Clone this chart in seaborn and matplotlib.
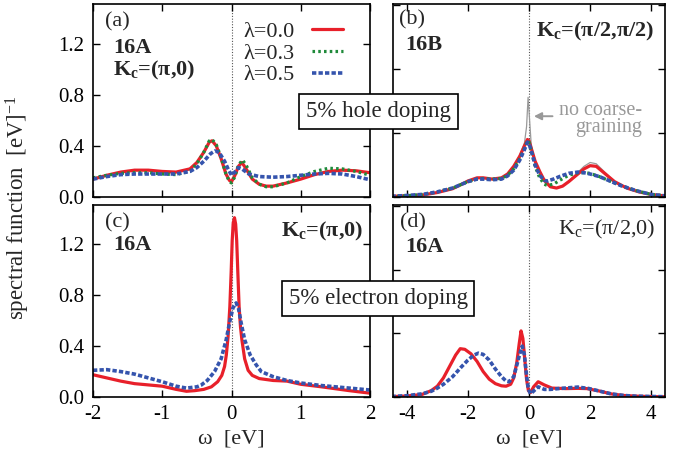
import matplotlib
matplotlib.use("Agg")
import matplotlib.pyplot as plt
from matplotlib.lines import Line2D
import seaborn as sns

# ---------------- data ----------------
# panel (a): 16A, Kc=(pi,0), 5% hole doping
w_a_l00 = [-2.0, -1.8, -1.6, -1.4, -1.2, -1.0, -0.8, -0.6, -0.5, -0.4, -0.32, -0.28, -0.22, -0.15, -0.08, -0.03,
           0.0, 0.05, 0.1, 0.15, 0.2, 0.3, 0.4, 0.5, 0.6, 0.8, 1.0, 1.2, 1.4, 1.6, 1.8, 2.0]
A_a_l00 = [0.14, 0.17, 0.195, 0.21, 0.21, 0.20, 0.195, 0.22, 0.27, 0.35, 0.43, 0.44, 0.40, 0.30, 0.18, 0.13,
           0.12, 0.17, 0.24, 0.27, 0.23, 0.14, 0.10, 0.085, 0.085, 0.11, 0.14, 0.175, 0.20, 0.21, 0.205, 0.19]
w_a_l03 = [-2.0, -1.8, -1.6, -1.4, -1.2, -1.0, -0.8, -0.6, -0.5, -0.4, -0.32, -0.28, -0.22, -0.15, -0.08, -0.03,
           0.0, 0.05, 0.1, 0.16, 0.22, 0.3, 0.4, 0.5, 0.6, 0.8, 1.0, 1.2, 1.4, 1.6, 1.8, 2.0]
A_a_l03 = [0.15, 0.17, 0.185, 0.19, 0.19, 0.18, 0.175, 0.20, 0.26, 0.35, 0.44, 0.45, 0.41, 0.31, 0.18, 0.12,
           0.11, 0.16, 0.25, 0.29, 0.24, 0.15, 0.10, 0.08, 0.08, 0.11, 0.16, 0.20, 0.225, 0.22, 0.20, 0.17]
w_a_l05 = [-2.0, -1.8, -1.6, -1.4, -1.2, -1.0, -0.8, -0.6, -0.5, -0.4, -0.3, -0.24, -0.18, -0.1, -0.05,
           0.0, 0.04, 0.1, 0.15, 0.25, 0.4, 0.6, 0.8, 1.0, 1.2, 1.4, 1.6, 1.8, 2.0]
A_a_l05 = [0.14, 0.16, 0.175, 0.18, 0.18, 0.18, 0.18, 0.20, 0.23, 0.28, 0.34, 0.36, 0.35, 0.28, 0.22,
           0.17, 0.19, 0.23, 0.22, 0.18, 0.16, 0.155, 0.16, 0.17, 0.18, 0.185, 0.18, 0.16, 0.135]

# panel (b): 16B, Kc=(pi/2,pi/2), 5% hole doping
w_b_l00 = [-4.5, -4.0, -3.5, -3.0, -2.5, -2.2, -2.0, -1.7, -1.5, -1.2, -0.9, -0.7, -0.5, -0.3, -0.15, -0.05,
           0.0, 0.1, 0.2, 0.35, 0.5, 0.7, 0.9, 1.1, 1.3, 1.5, 1.8, 2.0, 2.2, 2.5, 2.8, 3.2, 3.6, 4.0, 4.5]
A_b_l00 = [0.005, 0.01, 0.015, 0.035, 0.065, 0.10, 0.125, 0.15, 0.15, 0.14, 0.15, 0.18, 0.24, 0.32, 0.40, 0.45,
           0.44, 0.36, 0.28, 0.20, 0.13, 0.08, 0.07, 0.085, 0.12, 0.16, 0.22, 0.245, 0.24, 0.18, 0.12, 0.07, 0.04, 0.02, 0.007]
w_b_nocg = [-4.5, -4.0, -3.5, -3.0, -2.5, -2.2, -2.0, -1.7, -1.5, -1.2, -0.9, -0.7, -0.5, -0.3, -0.15, -0.08,
            -0.03, 0.02, 0.07, 0.15, 0.25, 0.35, 0.5, 0.7, 0.9, 1.1, 1.3, 1.5, 1.8, 2.0, 2.2, 2.5, 2.8, 3.2, 3.6, 4.0, 4.5]
A_b_nocg = [0.005, 0.01, 0.015, 0.035, 0.065, 0.10, 0.125, 0.15, 0.15, 0.14, 0.15, 0.18, 0.24, 0.33, 0.42, 0.55,
            0.78, 0.60, 0.42, 0.31, 0.23, 0.19, 0.13, 0.08, 0.07, 0.085, 0.125, 0.17, 0.24, 0.27, 0.26, 0.19, 0.12, 0.07, 0.04, 0.02, 0.007]
w_b_l03 = [-4.5, -4.0, -3.5, -3.0, -2.5, -2.2, -2.0, -1.7, -1.5, -1.2, -0.9, -0.7, -0.5, -0.3, -0.15, -0.05,
           0.0, 0.1, 0.2, 0.35, 0.5, 0.6, 0.8, 1.0, 1.3, 1.6, 1.8, 2.0, 2.3, 2.6, 3.0, 3.5, 4.0, 4.5]
A_b_l03 = [0.005, 0.01, 0.02, 0.04, 0.07, 0.10, 0.12, 0.14, 0.145, 0.14, 0.145, 0.17, 0.22, 0.30, 0.38, 0.44,
           0.43, 0.34, 0.24, 0.15, 0.10, 0.09, 0.10, 0.13, 0.17, 0.19, 0.19, 0.185, 0.16, 0.13, 0.09, 0.05, 0.02, 0.008]
w_b_l05 = [-4.5, -4.0, -3.5, -3.0, -2.5, -2.2, -2.0, -1.7, -1.5, -1.2, -0.9, -0.7, -0.5, -0.3, -0.15, -0.05,
           0.0, 0.1, 0.2, 0.35, 0.5, 0.6, 0.8, 1.0, 1.3, 1.6, 1.8, 2.0, 2.3, 2.6, 3.0, 3.5, 4.0, 4.5]
A_b_l05 = [0.005, 0.012, 0.02, 0.04, 0.07, 0.10, 0.12, 0.14, 0.14, 0.135, 0.14, 0.165, 0.21, 0.29, 0.37, 0.43,
           0.42, 0.34, 0.25, 0.17, 0.13, 0.125, 0.14, 0.16, 0.185, 0.195, 0.19, 0.18, 0.16, 0.13, 0.09, 0.05, 0.02, 0.008]

# panel (c): 16A, Kc=(pi,0), 5% electron doping
w_c_l00 = [-2.0, -1.8, -1.6, -1.4, -1.2, -1.0, -0.8, -0.65, -0.53, -0.4, -0.29, -0.2, -0.14, -0.1, -0.075, -0.05,
           -0.024, -0.005, 0.01, 0.025, 0.043, 0.06, 0.075, 0.09, 0.11, 0.13, 0.15, 0.19, 0.24, 0.3, 0.4, 0.6, 0.8,
           1.0, 1.3, 1.5, 1.7, 2.0]
A_c_l00 = [0.175, 0.15, 0.125, 0.105, 0.095, 0.085, 0.06, 0.045, 0.05, 0.06, 0.08, 0.12, 0.17, 0.24, 0.33, 0.47,
           0.71, 0.98, 1.23, 1.37, 1.41, 1.36, 1.23, 1.0, 0.71, 0.55, 0.45, 0.30, 0.21, 0.17, 0.145, 0.13, 0.125,
           0.10, 0.08, 0.065, 0.05, 0.03]
w_c_l05 = [-2.0, -1.8, -1.6, -1.4, -1.2, -1.0, -0.8, -0.65, -0.5, -0.44, -0.35, -0.245, -0.15, -0.077, -0.03,
           0.02, 0.067, 0.1, 0.14, 0.19, 0.27, 0.36, 0.43, 0.6, 0.8, 1.0, 1.3, 1.6, 2.0]
A_c_l05 = [0.21, 0.215, 0.20, 0.18, 0.15, 0.12, 0.085, 0.07, 0.08, 0.093, 0.13, 0.20, 0.30, 0.45, 0.58,
           0.70, 0.74, 0.70, 0.58, 0.45, 0.33, 0.25, 0.20, 0.16, 0.13, 0.11, 0.09, 0.075, 0.055]

# panel (d): 16A, Kc=(pi/2,0), 5% electron doping
w_d_l00 = [-4.5, -4.0, -3.5, -3.2, -3.0, -2.8, -2.6, -2.4, -2.25, -2.1, -1.9, -1.7, -1.5, -1.3, -1.1, -0.9, -0.75,
           -0.6, -0.5, -0.4, -0.32, -0.26, -0.2, -0.14, -0.08, -0.02, 0.05, 0.15, 0.3, 0.5, 0.75, 1.2, 1.6, 1.9,
           2.3, 2.7, 3.1, 3.5, 4.0, 4.5]
A_d_l00 = [0.003, 0.008, 0.02, 0.05, 0.085, 0.15, 0.24, 0.33, 0.38, 0.375, 0.34, 0.28, 0.20, 0.14, 0.105, 0.088, 0.085,
           0.10, 0.15, 0.27, 0.42, 0.52, 0.46, 0.30, 0.14, 0.05, 0.035, 0.08, 0.12, 0.095, 0.07, 0.066, 0.068, 0.066,
           0.047, 0.024, 0.012, 0.007, 0.003, 0.002]
w_d_l05 = [-4.5, -4.0, -3.5, -3.2, -3.0, -2.8, -2.5, -2.2, -2.0, -1.8, -1.65, -1.5, -1.3, -1.1, -0.9, -0.75, -0.65,
           -0.5, -0.4, -0.3, -0.22, -0.15, -0.08, -0.02, 0.05, 0.12, 0.3, 0.5, 0.7, 1.0, 1.6, 1.95, 2.3, 2.7, 3.1,
           3.5, 4.0, 4.5]
A_d_l05 = [0.004, 0.01, 0.025, 0.045, 0.07, 0.10, 0.16, 0.24, 0.29, 0.33, 0.345, 0.335, 0.29, 0.22, 0.16, 0.125, 0.12,
           0.16, 0.25, 0.34, 0.40, 0.33, 0.17, 0.06, 0.025, 0.04, 0.08, 0.06, 0.06, 0.067, 0.078, 0.067, 0.047, 0.024, 0.012,
           0.006, 0.004, 0.002]

legend_labels = ["λ=0.0", "λ=0.3", "λ=0.5"]
xticks_left = [-2, -1, 0, 1, 2]
xticks_right = [-4, -2, 0, 2, 4]
yticks_left = [0.0, 0.4, 0.8, 1.2]
yticks_right = [0.0, 0.5, 1.0, 1.5]

# ---------------- style ----------------
sns.set_theme(style="ticks")
plt.rcParams["font.family"] = ["Liberation Serif", "DejaVu Serif"]
plt.rcParams["mathtext.fontset"] = "custom"
plt.rcParams["mathtext.rm"] = "Liberation Serif"
plt.rcParams["mathtext.bf"] = "Liberation Serif:bold"
plt.rcParams["mathtext.default"] = "regular"
plt.rcParams["axes.unicode_minus"] = False

RED = "#e8202a"
GREEN = "#1f8a3a"
BLUE = "#3554ad"
styles = {
    "l00": dict(color=RED, lw=2.3, linestyle="-"),
    "l03": dict(color=GREEN, lw=2.3, linestyle=(0, (0.8, 1.0))),
    "l05": dict(color=BLUE, lw=2.6, linestyle=(0, (1.2, 0.6))),
}

fig = plt.figure(figsize=(6.84, 4.63), dpi=100)
W, H = 684, 463


def add_ax(x0, y0, x1, y1):
    return fig.add_axes([x0 / W, 1 - y1 / H, (x1 - x0) / W, (y1 - y0) / H])


ax_a = add_ax(93, 4, 370, 197)
ax_b = add_ax(393, 4, 665, 197)
ax_c = add_ax(93, 205, 370, 397)
ax_d = add_ax(393, 205, 665, 397)


def line(ax, w, A, key):
    sns.lineplot(x=w, y=A, ax=ax, sort=False, estimator=None, **styles[key])


GRAY = "#999999"
# gray "no coarse-graining" curve underneath
sns.lineplot(x=w_b_nocg, y=A_b_nocg, ax=ax_b, sort=False, estimator=None, color=GRAY, lw=0.9)

line(ax_a, w_a_l00, A_a_l00, "l00")
line(ax_a, w_a_l03, A_a_l03, "l03")
line(ax_a, w_a_l05, A_a_l05, "l05")
line(ax_b, w_b_l00, A_b_l00, "l00")
line(ax_b, w_b_l03, A_b_l03, "l03")
line(ax_b, w_b_l05, A_b_l05, "l05")
line(ax_c, w_c_l00, A_c_l00, "l00")
line(ax_c, w_c_l05, A_c_l05, "l05")
line(ax_d, w_d_l00, A_d_l00, "l00")
line(ax_d, w_d_l05, A_d_l05, "l05")

for ax, left in [(ax_a, True), (ax_b, False), (ax_c, True), (ax_d, False)]:
    ax.axvline(0, color="#555555", lw=0.8, linestyle=(0, (1, 1.5)), zorder=0.5)
    ax.set_ylim(0, 1.51)
    if left:
        ax.set_xlim(-2, 2)
        ax.set_xticks(xticks_left)
        ax.set_yticks(yticks_left)
        ax.set_yticklabels([f"{v:.1f}" for v in yticks_left])
    else:
        ax.set_xlim(-4.45, 4.45)
        ax.set_xticks(xticks_right)
        ax.set_yticks(yticks_right)
        ax.set_yticklabels([])
    ax.tick_params(direction="in", top=True, right=True, length=5, width=1.0,
                   labelsize=15, colors="black", pad=6)
    for s in ax.spines.values():
        s.set_linewidth(1.2)
        s.set_color("black")
    ax.set_xlabel("")
    ax.set_ylabel("")

for ax in (ax_a, ax_b):
    ax.set_xticklabels([])
ax_c.set_xticklabels([str(t) for t in xticks_left])
ax_d.set_xticklabels([str(t) for t in xticks_right])
ax_c.set_xlabel("ω  [eV]", fontsize=16, labelpad=4)
ax_d.set_xlabel("ω  [eV]", fontsize=16, labelpad=4)

fig.text(18 / W, 1 - 208 / H, "spectral function  [eV]$^{-1}$", rotation=90,
         ha="center", va="center", fontsize=16.5)

# legend in (a)
handles = [Line2D([], [], **styles[k]) for k in ("l00", "l03", "l05")]
ax_a.legend(handles, legend_labels, loc="upper right", bbox_to_anchor=(0.96, 0.99),
            frameon=False, markerfirst=False, fontsize=16, handlelength=1.4,
            handletextpad=0.8, labelspacing=0.05, borderpad=0.2)

# panel annotations
TS = 16
ax_a.text(0.043, 0.905, "(a)", transform=ax_a.transAxes, fontsize=TS, va="center")
ax_a.text(0.072, 0.772, "16A", transform=ax_a.transAxes, fontsize=TS, va="center", fontweight="bold")
ax_a.text(0.072, 0.655, r"$\mathbf{K_c}$=(π,0)", transform=ax_a.transAxes, fontsize=TS,
          va="center", fontweight="bold")

ax_b.text(0.022, 0.92, "(b)", transform=ax_b.transAxes, fontsize=TS, va="center")
ax_b.text(0.044, 0.788, "16B", transform=ax_b.transAxes, fontsize=TS, va="center", fontweight="bold")
ax_b.text(0.96, 0.86, r"$\mathbf{K_c}$=(π/2,π/2)", transform=ax_b.transAxes, fontsize=TS,
          va="center", ha="right", fontweight="bold")
ax_b.text(0.915, 0.405, "no coarse-\ngraining", transform=ax_b.transAxes, fontsize=14.5,
          va="center", ha="right", color=GRAY, linespacing=0.85, multialignment="right")
ax_b.annotate("", xy=(0.07, 0.632), xytext=(0.86, 0.632), xycoords="data",
              arrowprops=dict(arrowstyle="-|>", color=GRAY, lw=1.4, mutation_scale=11))

ax_c.text(0.043, 0.905, "(c)", transform=ax_c.transAxes, fontsize=TS, va="center")
ax_c.text(0.072, 0.79, "16A", transform=ax_c.transAxes, fontsize=TS, va="center", fontweight="bold")
ax_c.text(0.975, 0.86, r"$\mathbf{K_c}$=(π,0)", transform=ax_c.transAxes, fontsize=TS,
          va="center", ha="right", fontweight="bold")

ax_d.text(0.026, 0.905, "(d)", transform=ax_d.transAxes, fontsize=TS, va="center")
ax_d.text(0.044, 0.783, "16A", transform=ax_d.transAxes, fontsize=TS, va="center", fontweight="bold")
ax_d.text(0.963, 0.875, r"K$_c$=(π/2,0)", transform=ax_d.transAxes, fontsize=TS,
          va="center", ha="right")

box = dict(boxstyle="square,pad=0.3", fc="white", ec="black", lw=1.2)
fig.text(378.5 / W, 1 - 111.5 / H, "5% hole doping", ha="center", va="center",
         fontsize=16.5, bbox=box, zorder=10)
fig.text(378 / W, 1 - 298.3 / H, "5% electron doping", ha="center", va="center",
         fontsize=16.5, bbox=box, zorder=10)

fig.savefig("out.png", dpi=100)
